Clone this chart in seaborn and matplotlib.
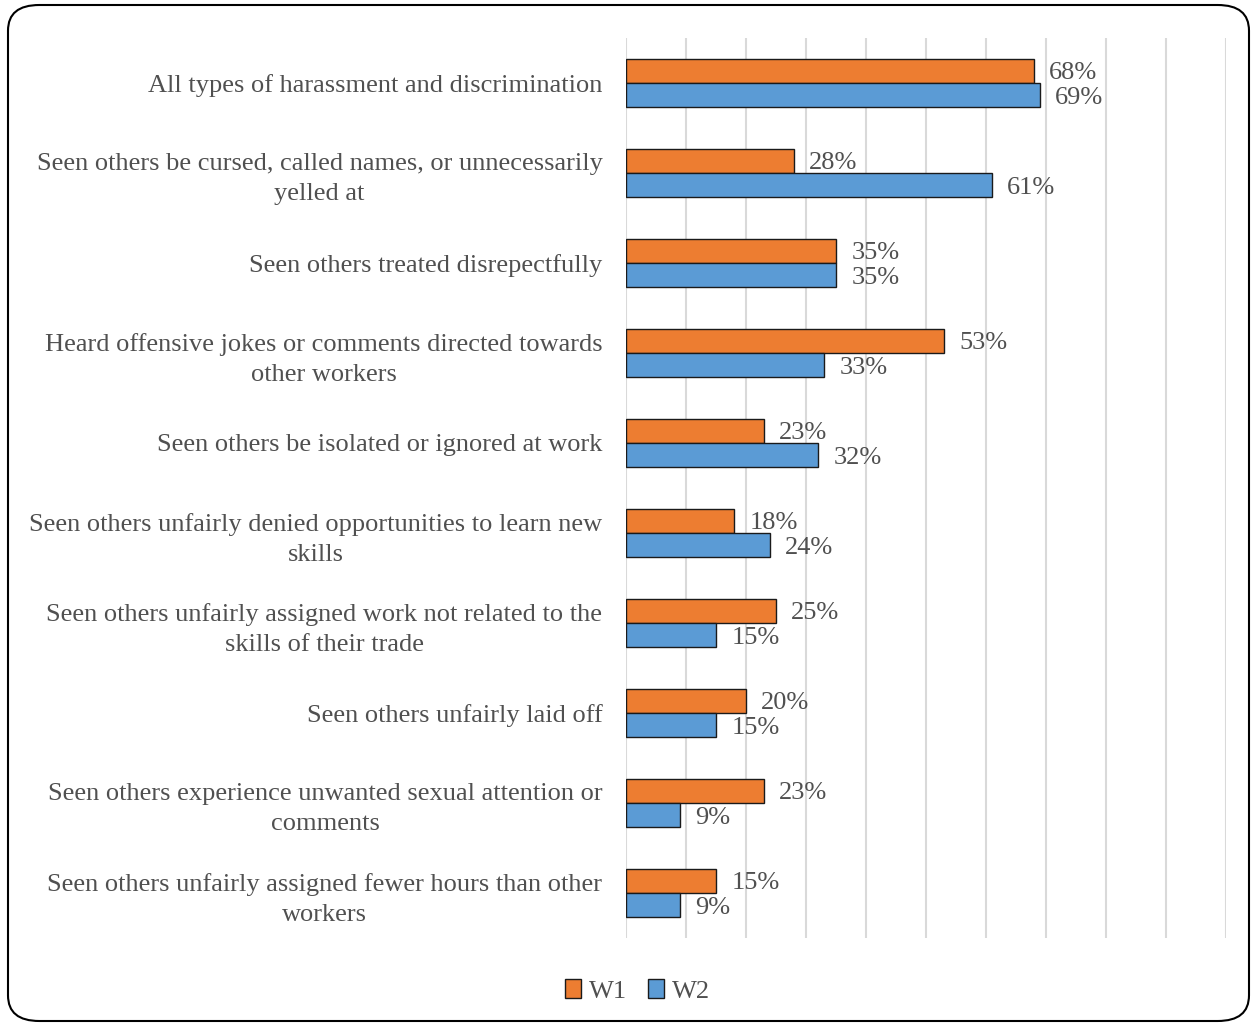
import matplotlib
matplotlib.use("Agg")
import matplotlib.pyplot as plt
from matplotlib.patches import FancyBboxPatch
import seaborn as sns
import pandas as pd

# Survey items, top to bottom
categories = [
    "All types of harassment and discrimination",
    "Seen others be cursed, called names, or unnecessarily\nyelled at",
    "Seen others treated disrepectfully",
    "Heard offensive jokes or comments directed towards\nother workers",
    "Seen others be isolated or ignored at work",
    "Seen others unfairly denied opportunities to learn new\nskills",
    "Seen others unfairly assigned work not related to the\nskills of their trade",
    "Seen others unfairly laid off",
    "Seen others experience unwanted sexual attention or\ncomments",
    "Seen others unfairly assigned fewer hours than other\nworkers",
]
w1_values = [68, 28, 35, 53, 23, 18, 25, 20, 23, 15]
w2_values = [69, 61, 35, 33, 32, 24, 15, 15, 9, 9]
waves = ["W1", "W2"]
wave_colors = {"W1": "#ED7D31", "W2": "#5B9BD5"}

df = pd.DataFrame({
    "item": categories * 2,
    "wave": ["W1"] * len(categories) + ["W2"] * len(categories),
    "pct": w1_values + w2_values,
})

sns.set_theme(style="white")
plt.rcParams["font.family"] = ["Liberation Serif", "DejaVu Serif"]
text_color = "#505050"

fig = plt.figure(figsize=(12.53, 10.26), dpi=100)
ax = fig.add_axes([626 / 1253, 1 - 938 / 1026, 600 / 1253, 900 / 1026])

sns.barplot(
    data=df, y="item", x="pct", hue="wave", hue_order=waves,
    palette=wave_colors, orient="h", width=0.535, dodge=True,
    edgecolor="#1a1a1a", linewidth=1.0, saturation=1, ax=ax,
)

ax.set_xlim(0, 100)
ax.set_xticks(range(0, 101, 10))
ax.set_xticklabels([])
ax.tick_params(axis="x", length=0)
ax.tick_params(axis="y", length=0, pad=17, labelsize=19, labelcolor=text_color)
ax.grid(axis="x", color="#D9D9D9", linewidth=1.5)
ax.grid(axis="y", visible=False)
ax.set_axisbelow(True)
ax.set_xlabel("")
ax.set_ylabel("")
for s in ax.spines.values():
    s.set_visible(False)
for lbl in ax.get_yticklabels():
    lbl.set_multialignment("center")
    lbl.set_linespacing(1.45)

for cont, vals in zip(ax.containers, [w1_values, w2_values]):
    texts = ax.bar_label(cont, labels=[f"{v}%" for v in vals], padding=11,
                         fontsize=19, color=text_color)
    for t in texts:
        t.set_va("center_baseline")

handles, labels = ax.get_legend_handles_labels()
ax.legend_.remove()
fig.legend(handles, labels, loc="center", bbox_to_anchor=(0.509, 0.034),
           ncol=2, frameon=False, fontsize=19, labelcolor=text_color,
           handlelength=0.6, handleheight=0.7, handletextpad=0.3,
           columnspacing=0.8)

border = FancyBboxPatch((8 / 1253, 5 / 1026), 1241 / 1253, 1016 / 1026,
                        boxstyle="round,pad=0,rounding_size=0.025",
                        transform=fig.transFigure, facecolor="none",
                        edgecolor="black", linewidth=1.5, zorder=10)
fig.patches.append(border)

fig.savefig("out.png", dpi=100)
